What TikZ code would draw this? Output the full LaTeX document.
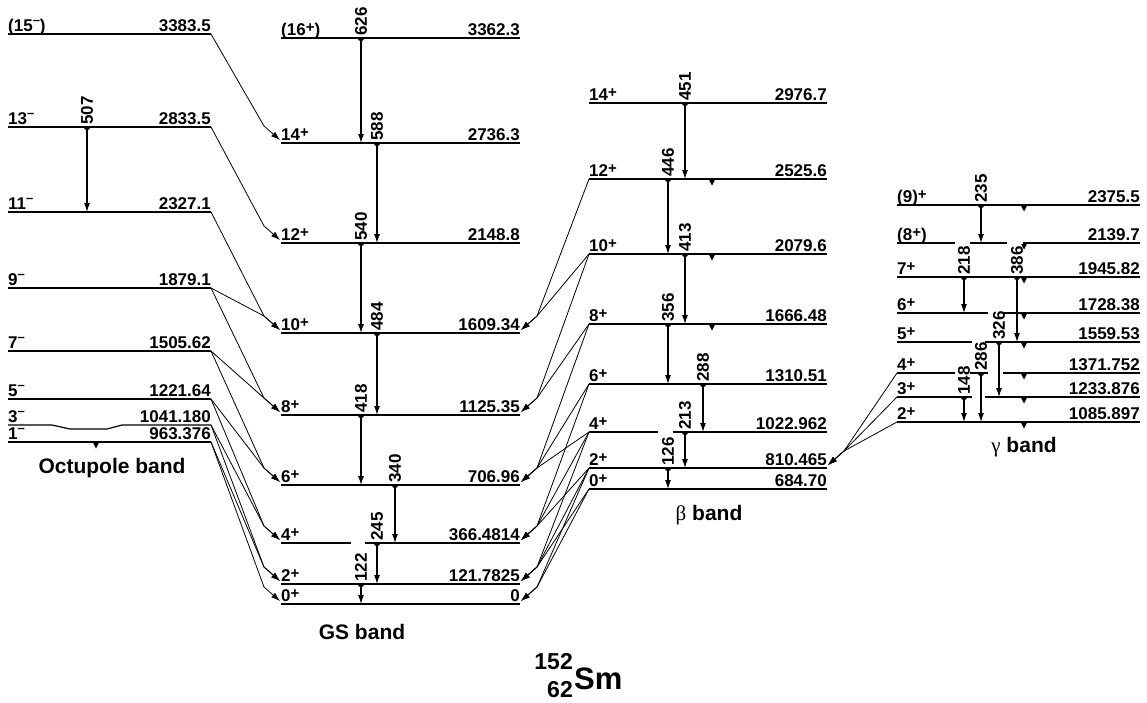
\documentclass[tikz,border=0pt]{standalone}
\usepackage{fontspec}
\setmainfont{Liberation Sans}
\newfontfamily\grec{Liberation Serif}
\usetikzlibrary{arrows.meta,calc}

\newcommand{\lvl}{\fontsize{17}{17}\selectfont\bfseries}
\newcommand{\bnd}{\fontsize{21}{21}\selectfont\bfseries}
\newcommand{\plus}{\raisebox{0.3ex}{\fontsize{15}{15}\selectfont+}}
\newcommand{\moins}{\raisebox{0.75ex}{\fontsize{13}{13}\selectfont\textendash}}
% demi-disque de depart d'une raie
\newcommand{\depart}[1]{\fill (#1) ++(-3.2pt,0pt) arc[start angle=180,end angle=360,radius=3.2pt] -- cycle;}
% raie dans une bande : depart, arrivee, colonne, energie
\newcommand{\raie}[4]{\draw[trans] (#1 -| #3) -- (#2 -| #3);
  \depart{#1 -| #3}
  \node[eg] (r#4) at (#1 -| #3) {#4};}
% petite marque sous un niveau
\newcommand{\marque}[2]{\fill (#1 -| #2) ++(-2.8,1) -- ++(5.6,0) -- ++(-2.8,5.5) -- cycle;}
% coupure dans un niveau
\newcommand{\trou}[3]{\fill[white] ({#2},{#1-2}) rectangle ({#3},{#1+2});}
% raies entre bandes, arrivee a gauche ou a droite
\newcommand{\versg}[2]{\draw[inter] (#1) -- ($(#2)+(-17,-17)$) -- ($(#2)+(-1,-3)$);}
\newcommand{\versd}[2]{\draw[inter] (#1) -- ($(#2)+(17,-17)$) -- ($(#2)+(1,-3)$);}

\begin{document}
\begin{tikzpicture}[x=1pt,y=-1pt,
  niveau/.style={line width=1.2pt},
  spin/.style={anchor=base west, inner sep=0pt, yshift=2.5pt, font=\lvl},
  ener/.style={anchor=base east, inner sep=0pt, yshift=2.5pt, font=\lvl},
  trans/.style={line width=1.1pt, -{Latex[length=9pt,width=6pt]}},
  inter/.style={line width=0.8pt, -{Latex[length=9pt,width=6pt]}},
  eg/.style={rotate=90, anchor=west, inner sep=2pt, font=\lvl},
  bande/.style={font=\bnd}]

\useasboundingbox (0,0) rectangle (1147,702);

% colonnes des raies
\coordinate (oA) at (87,0);  \coordinate (oT) at (96,0);
\coordinate (gA) at (361,0); \coordinate (gB) at (377,0); \coordinate (gC) at (395,0);
\coordinate (bA) at (668,0); \coordinate (bB) at (685,0); \coordinate (bC) at (703,0); \coordinate (bT) at (712,0);
\coordinate (cA) at (964,0); \coordinate (cB) at (981,0); \coordinate (cC) at (999,0); \coordinate (cD) at (1017,0); \coordinate (cT) at (1024,0);

% bande octupolaire
\foreach \n/\y/\s/\e in {o15/34/{(15\moins)}/3383.5, o13/127/{13\moins}/2833.5, o11/212/{11\moins}/2327.1,
    o9/288/{9\moins}/1879.1, o7/351/{7\moins}/1505.62, o5/399/{5\moins}/1221.64, o1/442/{1\moins}/963.376} {
  \coordinate (\n l) at (8,\y); \coordinate (\n r) at (211,\y);
  \draw[niveau] (\n l) -- (\n r);
  \node[spin] (\n s) at (\n l) {\s};
  \node[ener] (\n e) at (\n r) {\e};
}
\coordinate (o3l) at (8,425); \coordinate (o3r) at (211,425);
\draw[niveau] (o3l) -- (52,425) -- (70,429) -- (107,429) -- (122,425) -- (o3r);
\node[spin] (o3s) at (o3l) {3\moins};
\node[ener] (o3e) at (o3r) {1041.180};

% bande fondamentale
\foreach \n/\y/\s/\e in {gs16/38/{(16\plus)}/3362.3, gs14/143/{14\plus}/2736.3, gs12/243/{12\plus}/2148.8,
    gs10/333/{10\plus}/1609.34, gs8/415/{8\plus}/1125.35, gs6/485/{6\plus}/706.96, gs4/543/{4\plus}/366.4814,
    gs2/584/{2\plus}/121.7825, gs0/604/{0\plus}/0} {
  \coordinate (\n l) at (281,\y); \coordinate (\n r) at (520,\y);
  \draw[niveau] (\n l) -- (\n r);
  \node[spin] (\n s) at (\n l) {\s};
  \node[ener] (\n e) at (\n r) {\e};
}
\draw[line width=2.6pt] (gs0l) -- (gs0r);

% bande beta
\foreach \n/\y/\s/\e in {b14/103/{14\plus}/2976.7, b12/179/{12\plus}/2525.6, b10/254/{10\plus}/2079.6,
    b8/324/{8\plus}/1666.48, b6/384/{6\plus}/1310.51, b4/432/{4\plus}/1022.962, b2/468/{2\plus}/810.465,
    b0/489/{0\plus}/684.70} {
  \coordinate (\n l) at (589,\y); \coordinate (\n r) at (827,\y);
  \draw[niveau] (\n l) -- (\n r);
  \node[spin] (\n s) at (\n l) {\s};
  \node[ener] (\n e) at (\n r) {\e};
}

% bande gamma
\foreach \n/\y/\s/\e in {c9/205/{(9)\plus}/2375.5, c8/243/{(8\plus)}/2139.7, c7/277/{7\plus}/1945.82,
    c6/313/{6\plus}/1728.38, c5/342/{5\plus}/1559.53, c4/373/{4\plus}/1371.752, c3/397/{3\plus}/1233.876,
    c2/422/{2\plus}/1085.897} {
  \coordinate (\n l) at (897,\y); \coordinate (\n r) at (1140,\y);
  \draw[niveau] (\n l) -- (\n r);
  \node[spin] (\n s) at (\n l) {\s};
  \node[ener] (\n e) at (\n r) {\e};
}

% coupures
\trou{543}{351}{365}
\trou{432}{658}{673}
\trou{243}{955}{970} \trou{243}{1007}{1023}
\trou{313}{988}{1003}
\trou{342}{972}{985}
\trou{373}{955}{970} \trou{373}{988}{1003}
\trou{397}{972}{985}

% raies dans les bandes
\raie{o13l}{o11l}{oA}{507}
\raie{gs16l}{gs14l}{gA}{626}
\raie{gs14l}{gs12l}{gB}{588}
\raie{gs12l}{gs10l}{gA}{540}
\raie{gs10l}{gs8l}{gB}{484}
\raie{gs8l}{gs6l}{gA}{418}
\raie{gs6l}{gs4l}{gC}{340}
\raie{gs4l}{gs2l}{gB}{245}
\raie{gs2l}{gs0l}{gA}{122}
\raie{b14l}{b12l}{bB}{451}
\raie{b12l}{b10l}{bA}{446}
\raie{b10l}{b8l}{bB}{413}
\raie{b8l}{b6l}{bA}{356}
\raie{b6l}{b4l}{bC}{288}
\raie{b4l}{b2l}{bB}{213}
\raie{b2l}{b0l}{bA}{126}
\raie{c9l}{c8l}{cB}{235}
\raie{c7l}{c6l}{cA}{218}
\raie{c7l}{c5l}{cD}{386}
\raie{c5l}{c3l}{cC}{326}
\raie{c4l}{c2l}{cB}{286}
\raie{c3l}{c2l}{cA}{148}

% marques
\marque{o1l}{oT}
\marque{b12l}{bT} \marque{b10l}{bT} \marque{b8l}{bT}
\foreach \n in {c9,c8,c7,c6,c5,c4,c3,c2} {\marque{\n l}{cT}}

% octupolaire -> fondamentale
\versg{o15r}{gs14l}
\versg{o13r}{gs12l}
\versg{o11r}{gs10l}
\versg{o9r}{gs10l} \versg{o9r}{gs8l}
\versg{o7r}{gs8l}  \versg{o7r}{gs6l}
\versg{o5r}{gs6l}  \versg{o5r}{gs4l}
\versg{o3r}{gs4l}  \versg{o3r}{gs2l}
\versg{o1r}{gs2l}  \versg{o1r}{gs0l}

% beta -> fondamentale
\versd{b12l}{gs10r}
\versd{b10l}{gs10r} \versd{b10l}{gs8r}
\versd{b8l}{gs8r}   \versd{b8l}{gs6r}
\versd{b6l}{gs6r}   \versd{b6l}{gs4r}
\versd{b4l}{gs6r}   \versd{b4l}{gs4r} \versd{b4l}{gs2r}
\versd{b2l}{gs4r}   \versd{b2l}{gs2r} \versd{b2l}{gs0r}
\versd{b0l}{gs2r}   \versd{b0l}{gs0r}

% gamma -> beta
\versd{c4l}{b2r} \versd{c3l}{b2r} \versd{c2l}{b2r}

% noms des bandes
\node[bande] (octu) at (112,468) {Octupole band};
\node[bande] (gsb) at (362,632) {GS band};
\node[bande] (beta) at (709,515) {{\grec\mdseries β} band};
\node[bande] (gamm) at (1024,447) {{\grec\mdseries γ} band};

% noyau
\node[anchor=base east, inner sep=0pt, font=\fontsize{23}{23}\selectfont\bfseries] (masse) at (573,669) {152};
\node[anchor=base east, inner sep=0pt, font=\fontsize{23}{23}\selectfont\bfseries] (charge) at (573,697) {62};
\node[anchor=base west, inner sep=0pt, font=\fontsize{31}{31}\selectfont\bfseries] (sm) at (574,689) {Sm};

\end{tikzpicture}
\end{document}
